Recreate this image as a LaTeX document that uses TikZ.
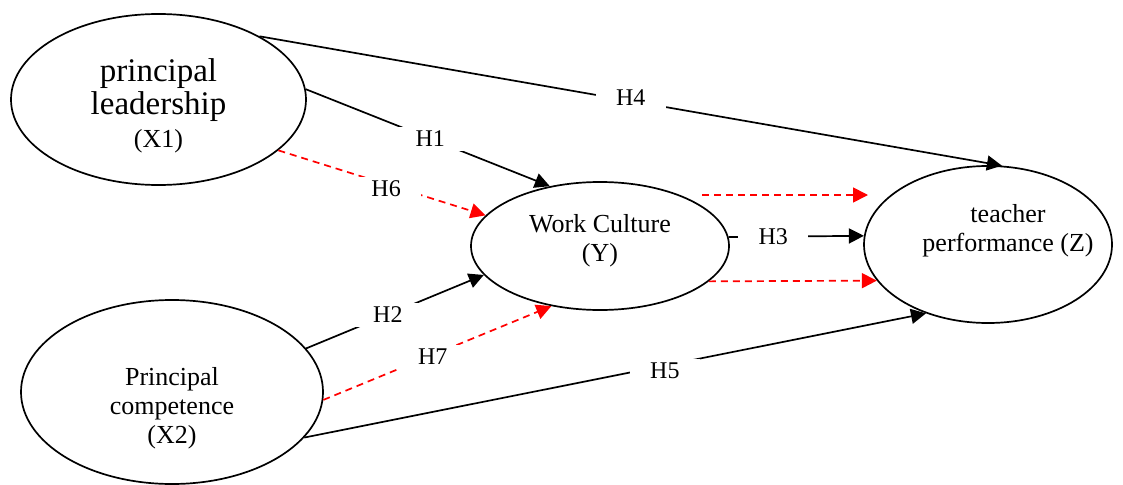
\documentclass[tikz,border=0pt]{standalone}
\usepackage{fontspec}
\setmainfont{Liberation Serif}
\usetikzlibrary{arrows.meta,shapes.geometric}

\begin{document}
\begin{tikzpicture}[x=1pt, y=-1pt, line join=round,
  latent/.style={draw, ellipse, line width=1.7pt, inner sep=0pt},
  vartext/.style={align=center, font=\fontsize{26}{29}\selectfont},
  effect/.style={line width=1.7pt, -{Triangle[length=15pt,width=15pt]}},
  mediate/.style={red, line width=1.7pt, dash pattern=on 7pt off 5pt, -{Triangle[length=15pt,width=15pt]}},
  hyp/.style={fill=white, text=black, minimum width=70pt, minimum height=24pt, inner sep=0pt, font=\fontsize{24}{28}\selectfont}]

  \useasboundingbox (0,0) rectangle (1123,484);

% --- 1. THE VARIABLES ---
  \node[latent, minimum width=295pt, minimum height=171pt] (x1) at (158.5,99.5) {};
  \node[align=center, font=\fontsize{33}{33}\selectfont] (x1t) at (158.5,106)
    {principal\\ leadership\\ {\fontsize{26}{33}\selectfont (X1)}};

  \node[latent, minimum width=302pt, minimum height=184pt] (x2) at (172,392) {};
  \node[vartext] (x2t) at (172,408) {Principal\\ competence\\ (X2)};

  \node[latent, minimum width=258pt, minimum height=128pt] (y) at (600,246) {};
  \node[vartext] (yt) at (600,241) {Work Culture\\ (Y)};

  \node[latent, minimum width=248pt, minimum height=157pt] (z) at (988,244.5) {};
  \node[vartext] (zt) at (1008,231) {teacher\\ performance (Z)};

% --- 2. DIRECT EFFECTS ---
  \draw[effect] (x1.32) -- node[hyp, yshift=3pt] {H4} (z.80);
  \draw[effect] (x1.4) -- node[hyp, pos=0.51] {H1} (y.130);
  \draw[effect] (x2.18) -- node[hyp, pos=0.46] {H2} (y.194);
  \draw[effect] (x2.-19) -- node[hyp, pos=0.58, yshift=-5pt] {H5} (z.228);
  \draw[effect] (y.4) -- node[hyp, pos=0.33] {H3} (z.176);

% --- 3. INDIRECT EFFECTS (through Y) ---
  \draw[mediate] (x1.-23) -- node[hyp, pos=0.52, yshift=-5pt] {H6} (y.165);
  \draw[mediate] (x2.-3) -- node[hyp, pos=0.48, yshift=-2pt] {H7} (y.231);
  % the two red lines on to Z
  \coordinate (m1) at (702,195);
  \coordinate (m2) at (868,195);
  \draw[mediate] (m1) -- (m2);
  \draw[mediate] (y.-18) -- (z.198);

\end{tikzpicture}
\end{document}
